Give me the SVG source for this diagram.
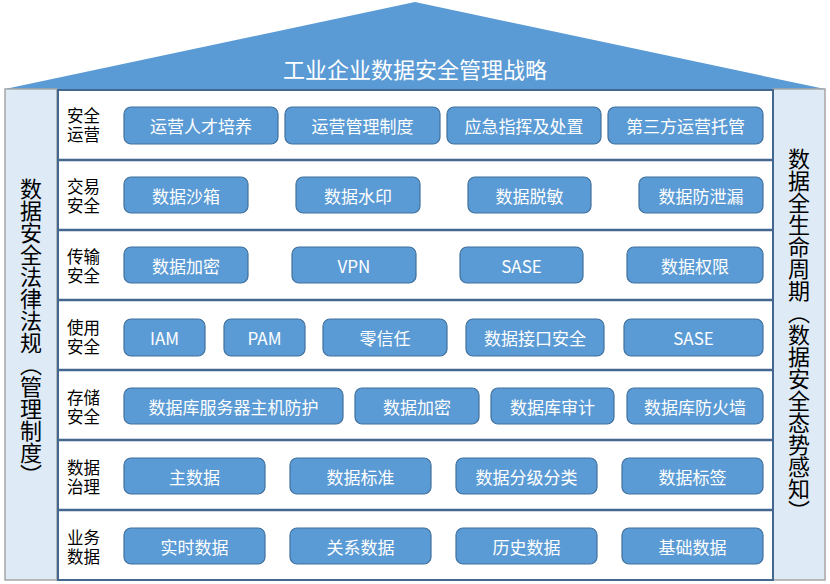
<svg xmlns="http://www.w3.org/2000/svg" width="830" height="584" viewBox="0 0 830 584">
<defs>
<style>
.bg{fill:#ffffff}
.roof{fill:#5B9BD5}
.side{fill:#DEEBF7;stroke:#A6A6A6;stroke-width:1.5}
.frame{fill:#ffffff;stroke:#44678F;stroke-width:2}
.sep{stroke:#44678F;stroke-width:2.5}
.box{fill:#5B9BD5;stroke:#41719C;stroke-width:1.2}
.bt{fill:#ffffff;font-family:"Microsoft YaHei","Noto Sans CJK SC",sans-serif;font-size:17px;text-anchor:middle;dominant-baseline:central}
.lbl{fill:#000000;font-family:"Microsoft YaHei","Noto Sans CJK SC",sans-serif;font-size:16.5px;dominant-baseline:central}
.title{fill:#ffffff;font-family:"Microsoft YaHei","Noto Sans CJK SC",sans-serif;font-size:22px;text-anchor:middle;dominant-baseline:central}
.vt{fill:#000000;font-family:"Noto Sans CJK SC",sans-serif;font-size:22px;writing-mode:vertical-rl;text-anchor:middle}
</style>
</defs>
<rect class="bg" x="0" y="0" width="830" height="584"/>
<g id="roof">
<polygon class="roof" points="5,89 415,2 825,89"/>
<text class="title" x="415" y="68">工业企业数据安全管理战略</text>
</g>
<g id="left-pillar">
<rect class="side" x="5" y="89" width="52" height="491"/>
<text class="vt" x="31" y="332">数据安全法律法规（管理制度）</text>
</g>
<g id="right-pillar">
<rect class="side" x="773" y="89" width="52" height="491"/>
<text class="vt" x="799" y="335">数据全生命周期（数据安全态势感知）</text>
</g>
<g id="frame">
<rect class="frame" x="58" y="90" width="715" height="490"/>
<line class="sep" x1="58" y1="160" x2="773" y2="160"/>
<line class="sep" x1="58" y1="230" x2="773" y2="230"/>
<line class="sep" x1="58" y1="300" x2="773" y2="300"/>
<line class="sep" x1="58" y1="370" x2="773" y2="370"/>
<line class="sep" x1="58" y1="440" x2="773" y2="440"/>
<line class="sep" x1="58" y1="510" x2="773" y2="510"/>
</g>
<g id="connectors"></g>
<g id="row1">
<text class="lbl" x="67" y="115">安全<tspan x="67" dy="19">运营</tspan></text>
<g id="r1b1"><rect class="box" x="124" y="107" width="154" height="37" rx="7"/><text class="bt" x="201" y="125.5">运营人才培养</text></g>
<g id="r1b2"><rect class="box" x="285" y="107" width="155" height="37" rx="7"/><text class="bt" x="362.5" y="125.5">运营管理制度</text></g>
<g id="r1b3"><rect class="box" x="447" y="107" width="154" height="37" rx="7"/><text class="bt" x="524" y="125.5">应急指挥及处置</text></g>
<g id="r1b4"><rect class="box" x="608" y="107" width="155" height="37" rx="7"/><text class="bt" x="685.5" y="125.5">第三方运营托管</text></g>
</g>
<g id="row2">
<text class="lbl" x="67" y="186">交易<tspan x="67" dy="19">安全</tspan></text>
<g id="r2b1"><rect class="box" x="124" y="177" width="124" height="36" rx="7"/><text class="bt" x="186" y="195">数据沙箱</text></g>
<g id="r2b2"><rect class="box" x="296" y="177" width="124" height="36" rx="7"/><text class="bt" x="358" y="195">数据水印</text></g>
<g id="r2b3"><rect class="box" x="468" y="177" width="123" height="36" rx="7"/><text class="bt" x="529.5" y="195">数据脱敏</text></g>
<g id="r2b4"><rect class="box" x="639" y="177" width="124" height="36" rx="7"/><text class="bt" x="701" y="195">数据防泄漏</text></g>
</g>
<g id="row3">
<text class="lbl" x="67" y="256">传输<tspan x="67" dy="19">安全</tspan></text>
<g id="r3b1"><rect class="box" x="124" y="247" width="124" height="36" rx="7"/><text class="bt" x="186" y="265">数据加密</text></g>
<g id="r3b2"><rect class="box" x="292" y="247" width="124" height="36" rx="7"/><text class="bt" x="354" y="265">VPN</text></g>
<g id="r3b3"><rect class="box" x="460" y="247" width="123" height="36" rx="7"/><text class="bt" x="521.5" y="265">SASE</text></g>
<g id="r3b4"><rect class="box" x="627" y="247" width="136" height="36" rx="7"/><text class="bt" x="695" y="265">数据权限</text></g>
</g>
<g id="row4">
<text class="lbl" x="67" y="327">使用<tspan x="67" dy="19">安全</tspan></text>
<g id="r4b1"><rect class="box" x="124" y="319" width="81" height="37" rx="7"/><text class="bt" x="164.5" y="337.5">IAM</text></g>
<g id="r4b2"><rect class="box" x="224" y="319" width="81" height="37" rx="7"/><text class="bt" x="264.5" y="337.5">PAM</text></g>
<g id="r4b3"><rect class="box" x="323" y="319" width="124" height="37" rx="7"/><text class="bt" x="385" y="337.5">零信任</text></g>
<g id="r4b4"><rect class="box" x="466" y="319" width="138" height="37" rx="7"/><text class="bt" x="535" y="337.5">数据接口安全</text></g>
<g id="r4b5"><rect class="box" x="624" y="319" width="139" height="37" rx="7"/><text class="bt" x="693.5" y="337.5">SASE</text></g>
</g>
<g id="row5">
<text class="lbl" x="67" y="397">存储<tspan x="67" dy="19">安全</tspan></text>
<g id="r5b1"><rect class="box" x="124" y="388" width="219" height="36" rx="7"/><text class="bt" x="233.5" y="406">数据库服务器主机防护</text></g>
<g id="r5b2"><rect class="box" x="355" y="388" width="124" height="36" rx="7"/><text class="bt" x="417" y="406">数据加密</text></g>
<g id="r5b3"><rect class="box" x="491" y="388" width="123" height="36" rx="7"/><text class="bt" x="552.5" y="406">数据库审计</text></g>
<g id="r5b4"><rect class="box" x="627" y="388" width="136" height="36" rx="7"/><text class="bt" x="695" y="406">数据库防火墙</text></g>
</g>
<g id="row6">
<text class="lbl" x="67" y="467">数据<tspan x="67" dy="19">治理</tspan></text>
<g id="r6b1"><rect class="box" x="124" y="458" width="141" height="36" rx="7"/><text class="bt" x="194.5" y="476">主数据</text></g>
<g id="r6b2"><rect class="box" x="290" y="458" width="141" height="36" rx="7"/><text class="bt" x="360.5" y="476">数据标准</text></g>
<g id="r6b3"><rect class="box" x="456" y="458" width="141" height="36" rx="7"/><text class="bt" x="526.5" y="476">数据分级分类</text></g>
<g id="r6b4"><rect class="box" x="622" y="458" width="141" height="36" rx="7"/><text class="bt" x="692.5" y="476">数据标签</text></g>
</g>
<g id="row7">
<text class="lbl" x="67" y="537">业务<tspan x="67" dy="19">数据</tspan></text>
<g id="r7b1"><rect class="box" x="124" y="528" width="141" height="36" rx="7"/><text class="bt" x="194.5" y="546">实时数据</text></g>
<g id="r7b2"><rect class="box" x="290" y="528" width="141" height="36" rx="7"/><text class="bt" x="360.5" y="546">关系数据</text></g>
<g id="r7b3"><rect class="box" x="456" y="528" width="141" height="36" rx="7"/><text class="bt" x="526.5" y="546">历史数据</text></g>
<g id="r7b4"><rect class="box" x="622" y="528" width="141" height="36" rx="7"/><text class="bt" x="692.5" y="546">基础数据</text></g>
</g>
</svg>
